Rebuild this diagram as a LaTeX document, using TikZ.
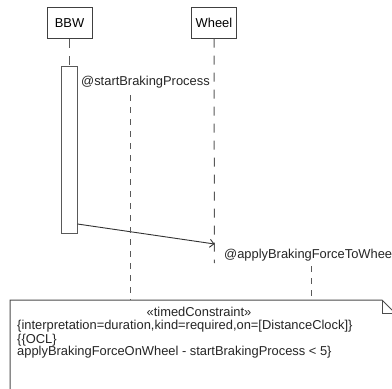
\documentclass[tikz,border=0pt]{standalone}
\usepackage{fontspec}
\setmainfont{Liberation Sans}
\usetikzlibrary{arrows.meta}
\begin{document}
\begin{tikzpicture}[x=1pt,y=-1pt,
  lbl/.style={font=\fontsize{12.9}{13}\selectfont, inner sep=0pt, text=black!85},
  head/.style={draw=black!75, line width=1pt, fill=white, minimum width=45pt, minimum height=31pt, inner sep=0pt, font=\fontsize{12.9}{13}\selectfont},
  life/.style={draw=black!65, line width=1pt, dash pattern=on 9pt off 8pt},
  markline/.style={draw=black!65, line width=1pt, dash pattern=on 6pt off 6pt},
  actbox/.style={draw=black!65, line width=1pt, fill=white, minimum width=16pt, minimum height=167pt, inner sep=0pt},
  msg/.style={draw=black!80, line width=0.9pt, -{Straight Barb[length=4pt,width=8pt]}},
  notebox/.style={draw=black!70, line width=1pt}
]
\useasboundingbox (0,0) rectangle (392,389);
\fill[white] (0,0) rectangle (392,389);
% heads
\node[head] (bbw) at (69.5,23) {BBW};
\node[head] (wheel) at (214,22.5) {Wheel};
% lifelines
\coordinate (bbwact) at (69.5,66);
\coordinate (wend) at (214.5,263);
\draw[life] (bbw.south) -- (bbwact);
\draw[life] (wheel.south) -- (wend);
% activation
\node[actbox, anchor=north] (act) at (bbwact) {};
% labels
\node[lbl, anchor=west] (lstart) at (81,82) {@startBrakingProcess};
\node[lbl, anchor=west] (lapply) at (224,255) {@applyBrakingForceToWheel};
% message
\coordinate (msgs) at (77.5,224);
\coordinate (msge) at (214.5,244);
\draw[msg] (msgs) -- (msge);
% note
\coordinate (n1) at (10,300);
\coordinate (n2) at (382,300);
\coordinate (n3) at (395,313);
\coordinate (n4) at (395,400);
\coordinate (n5) at (10,400);
\coordinate (f1) at (382,313);
\draw[notebox, fill=white] (n1) -- (n2) -- (n3) -- (n4) -- (n5) -- cycle;
\draw[notebox] (n2) -- (f1) -- (n3);
% marker lines
\coordinate (m1) at (130,95);
\coordinate (m1e) at (130,300);
\coordinate (m2) at (311.5,266);
\coordinate (m2e) at (311.5,300);
\draw[markline] (m1) -- (m1e);
\draw[markline] (m2) -- (m2e);
% note text
\node[lbl] (t1) at (199,312) {«timedConstraint»};
\node[lbl, anchor=west] (t2) at (17,326) {\{interpretation=duration,kind=required,on=[DistanceClock]\}};
\node[lbl, anchor=west] (t3) at (17,340) {\{\{OCL\}};
\node[lbl, anchor=west] (t4) at (17,352.5) {applyBrakingForceOnWheel - startBrakingProcess < 5\}};
\end{tikzpicture}
\end{document}
